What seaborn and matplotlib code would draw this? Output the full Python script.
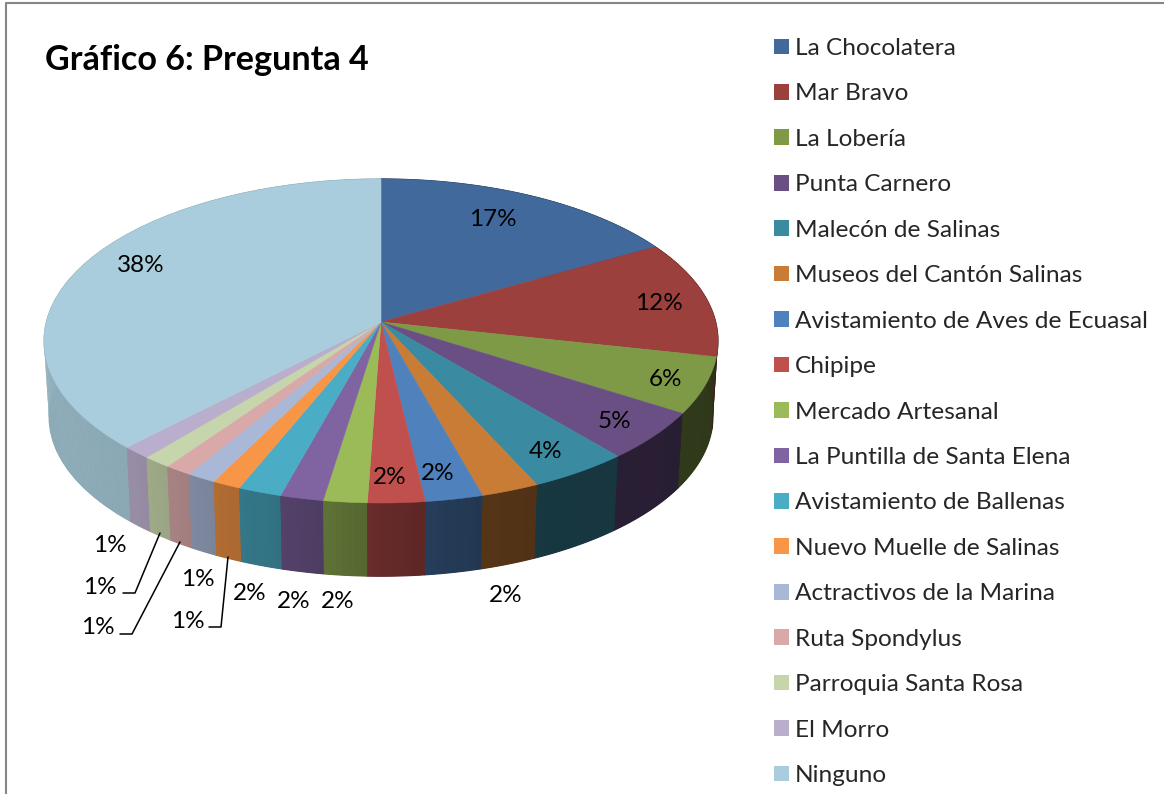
import numpy as np
import pandas as pd
import seaborn as sns
import matplotlib.pyplot as plt
from matplotlib.patches import Patch

places = ["La Chocolatera", "Mar Bravo", "La Lobería", "Punta Carnero", "Malecón de Salinas",
          "Museos del Cantón Salinas", "Avistamiento de Aves de Ecuasal", "Chipipe",
          "Mercado Artesanal", "La Puntilla de Santa Elena", "Avistamiento de Ballenas",
          "Nuevo Muelle de Salinas", "Actractivos de la Marina", "Ruta Spondylus",
          "Parroquia Santa Rosa", "El Morro", "Ninguno"]
shares = [16.7, 11.7, 5.6, 4.86, 4.31, 2.49, 2.47, 2.44, 1.87, 1.85, 1.87,
          1.22, 1.25, 1.16, 1.2, 1.25, 37.75]
colors = ["#41699B", "#9C403E", "#7F9A47", "#6A4F85", "#3A8AA2", "#C97C36", "#4F81BD", "#C0504D",
          "#9BBB59", "#8064A2", "#4BACC6", "#F79646", "#A9B8D6", "#D8A9A8", "#C6D5AB", "#B9AECB",
          "#A9CDDC"]
# label centres in pixels, same order as places
label_x = [493, 659, 666, 614, 546, 506, 438, 390, 338, 294, 250, 188, 198, 98, 100, 110, 141]
label_y = [220, 304, 380, 422, 452, 596, 474, 477, 602, 602, 594, 621, 579, 627, 588, 546, 266]
# leader lines
leaders = [([160, 135, 123], [533, 593, 593]),
           ([180, 132, 120], [542, 634, 634]),
           ([228, 221, 209], [557, 627, 627])]

data = pd.DataFrame({"place": places, "share": shares, "color": colors})
data["start"] = data["share"].cumsum().shift(fill_value=0) / data["share"].sum()
data["end"] = data["share"].cumsum() / data["share"].sum()

sns.set_style("white")
plt.rcParams["font.family"] = ["Lato", "DejaVu Sans"]

# pie projection, fitted on the picture
cx, cy = 381, 322
kx, ky, persp = 334.7, 159.8, 0.117
depth = 76
shrink = 0.985


def project(frac):
    ang = 2 * np.pi * frac
    u, v = np.sin(ang), np.cos(ang)
    w = 1 + persp * v
    return cx + kx * u / w, cy - ky * v / w


def wall_shade(x):
    return np.interp(x, [44, 127, 214, 323, 367, 425, 482, 536, 680, 716],
                     [.85, .82, .72, .61, .55, .48, .43, .40, .38, .37])


def wall_outline(a, b, n):
    x, y = project(np.linspace(a, b, n + 1))
    xb = cx + (x - cx) * shrink
    yb = cy + depth + (y - cy) * shrink
    return np.r_[x, xb[::-1]], np.r_[y, yb[::-1]], x.mean()


fig, ax = plt.subplots(figsize=(11.64, 7.94), dpi=100)
ax.set_position([0, 0, 1, 1])
ax.set_xlim(0, 1164)
ax.set_ylim(794, 0)
ax.axis("off")

# side wall first, back to front, one flat base per slice and then the shading on it
order = data.assign(mid=np.cos(np.pi * (data["start"] + data["end"]))).sort_values("mid", ascending=False)
for _, row in order.iterrows():
    base = np.array(sns.color_palette([row["color"]])[0])
    wx, wy, xm = wall_outline(row["start"], row["end"], 40)
    ax.fill(wx, wy, color=base * wall_shade(xm), lw=0.8, zorder=2)
    t = np.linspace(row["start"], row["end"], max(int(row["share"] * 4), 5) + 1)
    for a, b in zip(t[:-1], t[1:]):
        wx, wy, xm = wall_outline(a, b, 3)
        ax.fill(wx, wy, color=base * wall_shade(xm), lw=0, zorder=2.1)

# top surface
for _, row in data.iterrows():
    t = np.linspace(row["start"], row["end"], max(int(row["share"] * 6), 6))
    x, y = project(t)
    ax.fill(np.r_[cx, x], np.r_[cy, y], color=row["color"], lw=0.4, zorder=3)

for lx, ly in leaders:
    ax.plot(lx, ly, color="black", lw=1.1, zorder=4)

for share, lx, ly in zip(shares, label_x, label_y):
    ax.text(lx, ly, f"{round(share)}%", ha="center", va="center", fontsize=17.5, color="black", zorder=5)

ax.text(45, 60, "Gráfico 6: Pregunta 4", ha="left", va="center", fontsize=24.6, fontweight="bold", color="black")

handles = [Patch(facecolor=c, edgecolor="none", label=p) for p, c in zip(places, colors)]
ax.legend(handles=handles, loc="upper left", bbox_to_anchor=(774, 38), bbox_transform=ax.transData,
          frameon=False, fontsize=17.6, borderpad=0, borderaxespad=0, handlelength=0.61,
          handleheight=0.61, handletextpad=0.25, labelspacing=1.0)

# chart frame, only top and left are inside the crop
ax.plot([1164, 5.5, 5.5], [2.5, 2.5, 794], color="#868686", lw=1.5, zorder=1)

fig.savefig("out.png", dpi=100)
